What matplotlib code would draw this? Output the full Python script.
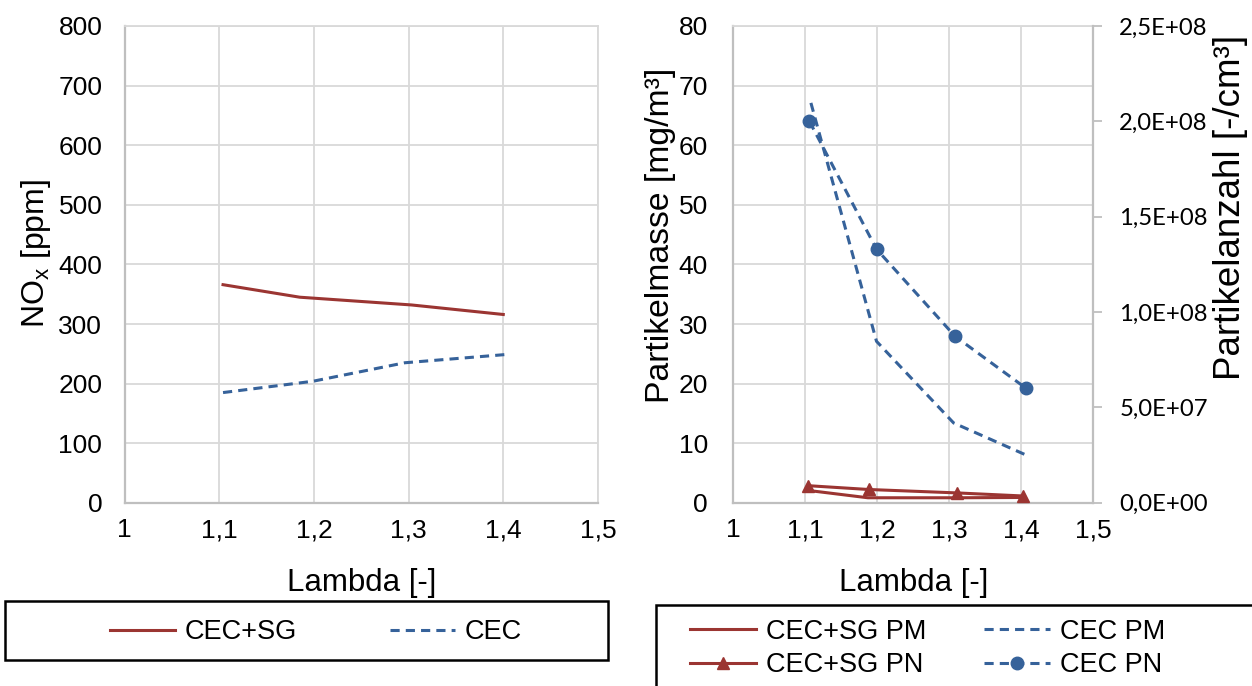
import matplotlib
matplotlib.use("Agg")
import matplotlib.pyplot as plt
from matplotlib.ticker import FuncFormatter, MultipleLocator
from matplotlib.lines import Line2D

plt.rcParams['font.family'] = ['Liberation Sans', 'DejaVu Sans']
plt.rcParams['mathtext.fontset'] = 'custom'
plt.rcParams['mathtext.rm'] = 'Liberation Sans'

# -------------------------
# Data
# -------------------------
# NOx over lambda
lambda_nox_sg = [1.104, 1.185, 1.303, 1.400]
nox_sg = [366, 345, 332, 316]
lambda_nox_cec = [1.104, 1.199, 1.296, 1.404]
nox_cec = [185, 204, 235, 249]

# particle mass [mg/m3]
lambda_pm_sg = [1.103, 1.187, 1.310, 1.402]
pm_sg = [2.1, 0.85, 0.85, 0.9]
lambda_pm_cec = [1.108, 1.199, 1.306, 1.405]
pm_cec = [67.1, 27.1, 13.4, 8.1]

# particle number [-/cm3]
lambda_pn_sg = [1.104, 1.188, 1.311, 1.402]
pn_sg = [9.0e6, 7.0e6, 5.2e6, 3.6e6]
lambda_pn_cec = [1.106, 1.199, 1.308, 1.406]
pn_cec = [2.0e8, 1.33e8, 8.73e7, 6.02e7]

x_ticks = [1.0, 1.1, 1.2, 1.3, 1.4, 1.5]

RED = '#9b3532'
BLUE = '#36629a'
GRID = '#d9d9d9'
AXIS = '#bfbfbf'
LW = 2.2
MS = 9
DASH = (0, (3, 2))
TICK_FS = 19
LEG_FS = 19.5


def comma_dec(v, pos):
    s = f"{v:.1f}".rstrip('0').rstrip('.')
    return s.replace('.', ',')


def sci_comma(v, pos):
    return f"{v:.1E}".replace('.', ',')


def style_axes(ax):
    ax.grid(True, color=GRID, lw=1.3)
    ax.set_axisbelow(True)
    for side in ('top', 'right'):
        ax.spines[side].set_color(GRID)
        ax.spines[side].set_linewidth(1.3)
    for side in ('left', 'bottom'):
        ax.spines[side].set_color(AXIS)
        ax.spines[side].set_linewidth(1.6)
    ax.set_xlim(1.0, 1.5)
    ax.set_xticks(x_ticks)
    ax.xaxis.set_major_formatter(FuncFormatter(comma_dec))
    ax.tick_params(axis='both', length=0, labelsize=TICK_FS, colors='black')
    ax.tick_params(axis='x', pad=11)
    ax.set_xlabel("Lambda [-]", fontsize=22.5)
    ax.xaxis.set_label_coords(0.5, -0.137)


fig = plt.figure(figsize=(12.52, 6.86), dpi=100)

# -------------------------
# Left: NOx
# -------------------------
ax1 = fig.add_axes([0.0995, 0.267, 0.3781, 0.6951])
style_axes(ax1)
ax1.tick_params(axis='y', pad=16)
ax1.plot(lambda_nox_sg, nox_sg, color=RED, lw=LW)
ax1.plot(lambda_nox_cec, nox_cec, color=BLUE, lw=LW, linestyle=DASH)
ax1.set_ylim(0, 800)
ax1.yaxis.set_major_locator(MultipleLocator(100))
ax1.set_ylabel(r"NO$_\mathregular{x}$ [ppm]", fontsize=23)
ax1.yaxis.set_label_coords(-0.151, 0.523)

# -------------------------
# Right: PM + PN (twin axis)
# -------------------------
ax2 = fig.add_axes([0.5855, 0.267, 0.2879, 0.6951])
style_axes(ax2)
ax2.tick_params(axis='y', pad=18)
ax2.set_ylim(0, 80)
ax2.yaxis.set_major_locator(MultipleLocator(10))
ax2.set_ylabel("Partikelmasse [mg/m³]", fontsize=24.3)
ax2.yaxis.set_label_coords(-0.158, 0.56)

ax3 = ax2.twinx()
ax3.set_ylim(0, 2.5e8)
ax3.yaxis.set_major_locator(MultipleLocator(5e7))
ax3.yaxis.set_major_formatter(FuncFormatter(sci_comma))
for side in ('top', 'left', 'bottom'):
    ax3.spines[side].set_visible(False)
ax3.spines['right'].set_color(AXIS)
ax3.spines['right'].set_linewidth(1.6)
ax3.tick_params(axis='y', length=6.5, width=1.3, color=AXIS, labelsize=17.2, pad=12)
for lbl in ax3.get_yticklabels():
    lbl.set_family(['Lato', 'DejaVu Sans'])
ax3.set_ylabel("Partikelanzahl [-/cm³]", fontsize=26.5)
ax3.yaxis.set_label_coords(1.331, 0.62)

ax2.plot(lambda_pm_sg, pm_sg, color=RED, lw=LW)
ax2.plot(lambda_pm_cec, pm_cec, color=BLUE, lw=LW, linestyle=DASH)
ax3.plot(lambda_pn_sg, pn_sg, color=RED, lw=LW, marker='^', markersize=MS)
ax3.plot(lambda_pn_cec, pn_cec, color=BLUE, lw=LW, linestyle=DASH,
         marker='o', markersize=MS)

# -------------------------
# Legends below the plots
# -------------------------
h_sg = Line2D([], [], color=RED, lw=LW)
h_cec = Line2D([], [], color=BLUE, lw=LW, linestyle=DASH)
h_sg_pn = Line2D([], [], color=RED, lw=LW, marker='^', markersize=MS)
h_cec_pn = Line2D([], [], color=BLUE, lw=LW, linestyle=DASH, marker='o', markersize=MS)

fig.legend([h_sg, h_cec], ["CEC+SG", "CEC"], ncol=2,
           loc='center left', bbox_to_anchor=(110 / 1252, 1 - 632 / 686),
           fontsize=LEG_FS, frameon=False, handlelength=2.4,
           handletextpad=0.37, columnspacing=3.42,
           borderpad=0, borderaxespad=0)
fig.patches.append(plt.Rectangle((5 / 1252, 1 - 660 / 686), 603 / 1252, 59 / 686,
                                 transform=fig.transFigure, fill=False,
                                 edgecolor='black', lw=1.8))

fig.legend([h_sg, h_sg_pn, h_cec, h_cec_pn],
           ["CEC+SG PM", "CEC+SG PN", "CEC PM", "CEC PN"], ncol=2,
           loc='center left', bbox_to_anchor=(690 / 1252, 1 - 648.5 / 686),
           fontsize=LEG_FS, frameon=False, handlelength=2.45,
           handletextpad=0.37, columnspacing=2.1, labelspacing=0.28,
           borderpad=0, borderaxespad=0)
fig.patches.append(plt.Rectangle((656 / 1252, -0.05), 620 / 1252, (1 - 605 / 686) + 0.05,
                                 transform=fig.transFigure, fill=False,
                                 edgecolor='black', lw=1.8))

fig.savefig("out.png", dpi=100)
